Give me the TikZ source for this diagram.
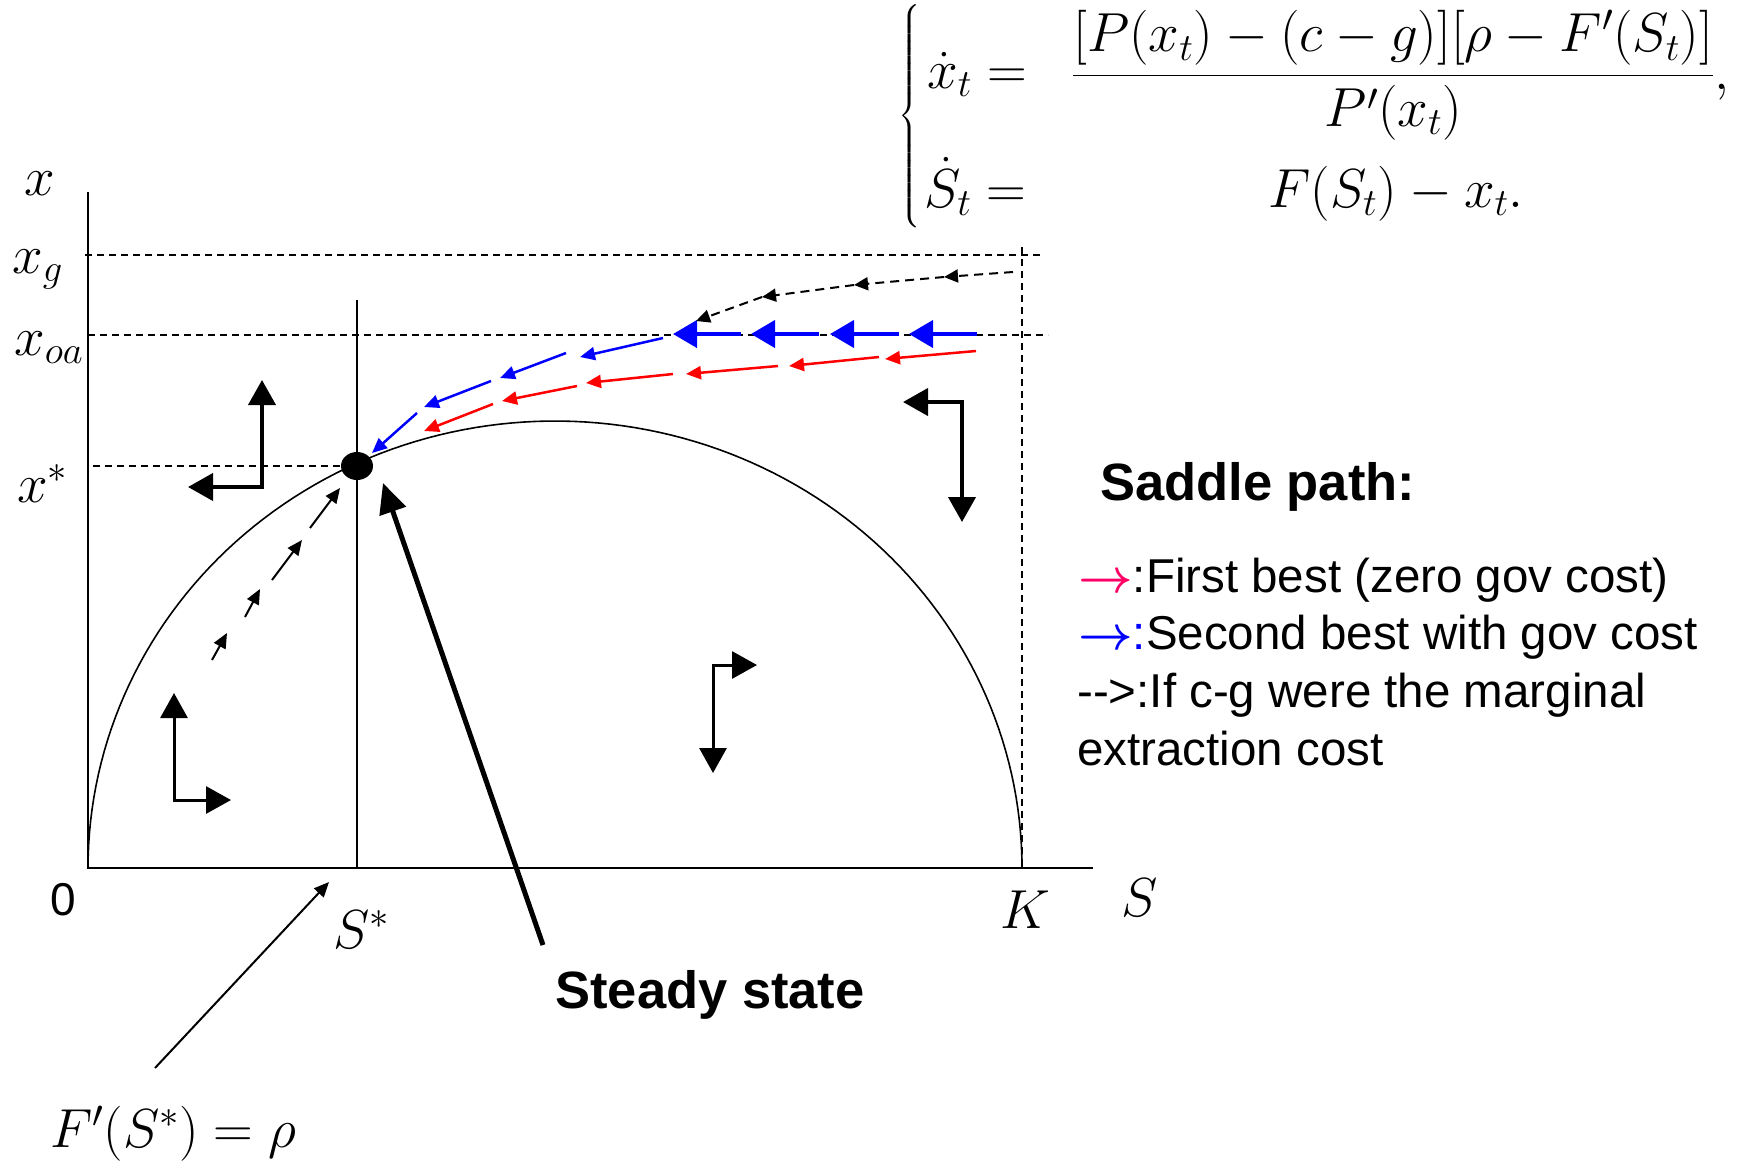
\documentclass[tikz,border=0pt]{standalone}
\usepackage{fix-cm}
\usepackage{amsmath}
\usepackage{fontspec}
\setsansfont{Liberation Sans}
\usetikzlibrary{arrows.meta, shapes.geometric}
\definecolor{firstred}{RGB}{255,0,102}
\newcommand{\labfont}{\fontsize{55}{66}\selectfont}
\newcommand{\legfont}{\fontsize{47.5}{57}\selectfont\sffamily}
\newcommand{\headfont}{\fontsize{52.5}{63}\selectfont\sffamily\bfseries}

\begin{document}
\begin{tikzpicture}[x=1pt, y=-1pt,
    axis/.style={line width=1.6pt},
    guide/.style={line width=1.6pt, dash pattern=on 7pt off 5pt},
    phase/.style={line width=4pt, {Triangle[length=25pt,width=27pt]}-{Triangle[length=25pt,width=27pt]}},
    lowphase/.style={phase, line width=3pt},
    firstbest/.style={red, line width=2.5pt, -{Triangle[length=15pt,width=13pt]}},
    secondbest/.style={blue, line width=2.5pt, -{Triangle[length=15pt,width=13pt]}},
    bigblue/.style={blue, line width=4pt, -{Triangle[length=24pt,width=27pt]}},
    cgpath/.style={line width=2pt, dash pattern=on 9pt off 6pt, -{Triangle[length=14pt,width=13pt]}},
    cgshort/.style={line width=2pt, -{Triangle[length=15pt,width=13pt]}},
    ssarrow/.style={line width=5pt, -{Triangle[length=30pt,width=27pt]}},
    thinarrow/.style={line width=2pt, -{Triangle[length=15pt,width=13pt]}},
    lab/.style={font=\labfont, inner sep=0pt}
]
    \useasboundingbox (0,0) rectangle (1739,1160);

    % Axes and growth curve
    \draw[axis] (88,192) -- (88,868) -- (1093,868);
    \draw[axis] plot[domain=180:0, samples=120] ({555+467*cos(\x)}, {868-447*sin(\x)});
    \draw[axis] (357,300) -- (357,868);

    % Guide lines
    \draw[guide] (85,255) -- (1040,255);
    \draw[guide] (88,335) -- (1048,335);
    \draw[guide] (93,466) -- (341,466);
    \draw[guide] (1022,247) -- (1022,868);

    % Axis labels
    \node[lab, anchor=base west] (xlab) at (24,195) {$x$};
    \node[lab, anchor=base west] (xglab) at (12,273) {$x_g$};
    \node[lab, anchor=base west] (xoalab) at (14,355) {$x_{oa}$};
    \node[lab, anchor=base west] (xstarlab) at (17,502) {$x^*$};
    \node[font=\fontsize{46}{55}\selectfont\sffamily, inner sep=0pt, anchor=base west] (zero) at (50,915) {0};
    \node[lab, anchor=base west] (sstarlab) at (333,948) {$S^*$};
    \node[lab, anchor=base west] (klab) at (1000,928) {$K$};
    \node[lab, anchor=base west] (slab) at (1121,916) {$S$};

    % Phase arrows
    \draw[phase] (262,380) -- (262,487) -- (188,487);
    \draw[lowphase] (174,693) -- (174,800) -- (231,800);
    \draw[lowphase] (713,773) -- (713,665) -- (757,665);
    \draw[phase] (962,522) -- (962,402) -- (903,402);

    % Saddle paths
    \foreach \xa/\ya/\xb/\yb in {976/351/885/359, 879/357/789/366, 778/366/686/374,
                                 673/374/586/383, 577/386/502/401, 493/404/424/431}
        \draw[firstbest] (\xa,\ya) -- (\xb,\yb);
    \foreach \xa/\xb in {977/909, 899/830, 819/751, 741/673}
        \draw[bigblue] (\xa,334) -- (\xb,334);
    \foreach \xa/\ya/\xb/\yb in {663/338/580/357, 566/353/500/378, 491/381/424/407, 417/413/372/453}
        \draw[secondbest] (\xa,\ya) -- (\xb,\yb);
    \foreach \xa/\ya/\xb/\yb in {1013/272/944/277, 944/277/854/285, 854/285/762/297, 762/297/696/321}
        \draw[cgpath] (\xa,\ya) -- (\xb,\yb);
    \foreach \xa/\ya/\xb/\yb in {212/660/227/633, 245/617/260/589, 272/580/302/540, 310/528/340/488}
        \draw[cgshort] (\xa,\ya) -- (\xb,\yb);

    % Steady state
    \node[ellipse, fill=black, minimum width=32pt, minimum height=28pt, inner sep=0pt] (ss) at (357,466) {};
    \node[font=\headfont, inner sep=0pt, anchor=base] (sslabel) at (710,1008) {Steady state};
    \coordinate (sstail) at (543,945);
    \coordinate (sstip) at (383,483);
    \draw[ssarrow] (sstail) -- (sstip);

    % Golden rule condition
    \node[lab, anchor=base west] (foclab) at (50,1147) {$F'(S^*)=\rho$};
    \coordinate (foctail) at (155,1068);
    \coordinate (foctip) at (329,882);
    \draw[thinarrow] (foctail) -- (foctip);

    % Dynamics
    \node[lab, anchor=east] (brace) at (922,117) {$\left\{\rule[-100pt]{0pt}{200pt}\right.$};
    \node[lab, anchor=base west] (xdot) at (927,88) {$\dot{x}_t =$};
    \node[lab, anchor=base west] (frac) at (1072,89) {$\dfrac{[P(x_t)-(c-g)][\rho-F'(S_t)]}{P'(x_t)},$};
    \node[lab, anchor=base west] (sdot) at (924,207) {$\dot{S}_t =$};
    \node[lab, anchor=base] (sdoteq) at (1396,207) {$F(S_t)-x_t.$};

    % Legend
    \node[font=\headfont, inner sep=0pt, anchor=base west] (saddle) at (1100,500) {Saddle path:};
    \node[font=\legfont, inner sep=0pt, anchor=base west] (leg1) at (1078,592) {\textcolor{firstred}{$\boldsymbol{\rightarrow}$}:First best (zero gov cost)};
    \node[font=\legfont, inner sep=0pt, anchor=base west] (leg2) at (1078,649) {\textcolor{blue}{$\boldsymbol{\rightarrow}$:}Second best with gov cost};
    \node[font=\legfont, inner sep=0pt, anchor=base west] (leg3) at (1077,707) {-{}->:If c-g were the marginal};
    \node[font=\legfont, inner sep=0pt, anchor=base west] (leg4) at (1077,765) {extraction cost};
\end{tikzpicture}
\end{document}
